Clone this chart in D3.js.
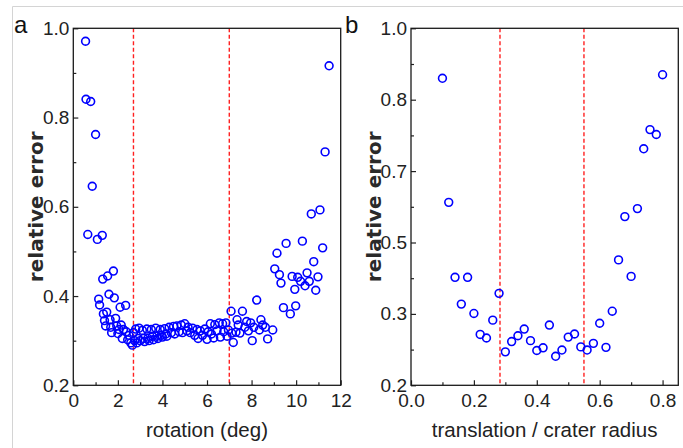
<!DOCTYPE html>
<html>
<head>
<meta charset="utf-8">
<script src="https://cdn.jsdelivr.net/npm/d3@7"></script>
<style>
  html, body { margin: 0; padding: 0; background: #fff; }
  svg { display: block; }
  .tick text { font-family: "Liberation Sans Narrow", "Liberation Sans", Arial, sans-serif; font-size: 19px; fill: #222; }
</style>
</head>
<body>
<div id="chart"></div>
<script>
// panel a: rotation (deg) vs relative error
const rotationDeg = [
  0.55, 0.57, 0.65, 0.78, 0.85, 1.00, 1.08, 1.14, 1.18, 1.30, 1.32, 1.35, 1.40, 1.45, 1.50, 1.54,
  1.60, 1.65, 1.68, 1.72, 1.80, 1.84, 1.90, 1.95, 2.00, 2.05, 2.10, 2.15, 2.20, 2.25, 2.35, 2.38,
  2.44, 2.50, 2.58, 2.65,
  2.70, 2.75, 2.80, 2.85, 2.90, 2.95, 3.00, 3.10, 3.15, 3.20, 3.30, 3.35, 3.40, 3.50, 3.55, 3.60,
  3.70, 3.75, 3.80, 3.90, 3.95, 4.00, 4.10, 4.15, 4.20, 4.30, 4.40, 4.50, 4.55, 4.65, 4.75, 4.85,
  4.90, 5.00, 5.10, 5.15, 5.25, 5.35, 5.45, 5.55, 5.60, 5.70, 5.80, 5.90, 6.00, 6.05, 6.15, 6.20,
  6.30, 6.35, 6.45, 6.55, 6.60, 6.70, 6.75, 6.85, 6.90, 6.96,
  7.08, 7.11, 7.18, 7.30, 7.35, 7.40, 7.48, 7.59, 7.70, 7.78, 7.86, 7.96, 8.03, 8.10, 8.23, 8.35,
  8.42, 8.50, 8.62, 8.72, 8.95,
  9.04, 9.14, 9.25, 9.32, 9.43, 9.55, 9.74, 9.82, 9.94, 9.98, 10.07, 10.20, 10.28, 10.40, 10.49,
  10.59, 10.68, 10.79, 10.88, 10.98, 11.07, 11.19, 11.30, 11.48
];
const rotationErr = [
  0.971, 0.841, 0.538, 0.836, 0.646, 0.762, 0.527, 0.393, 0.380, 0.536, 0.438, 0.360, 0.345, 0.333, 0.364, 0.445,
  0.404, 0.347, 0.330, 0.318, 0.456, 0.396, 0.350, 0.333, 0.316, 0.325, 0.375, 0.335, 0.305, 0.325, 0.379, 0.320,
  0.302, 0.312, 0.295, 0.290,
  0.318, 0.300, 0.326, 0.295, 0.305, 0.328, 0.300, 0.323, 0.305, 0.298, 0.326, 0.305, 0.300, 0.325, 0.310, 0.302,
  0.328, 0.310, 0.305, 0.325, 0.312, 0.308, 0.327, 0.315, 0.310, 0.330, 0.318, 0.332, 0.315, 0.333, 0.320, 0.335,
  0.318, 0.338, 0.322, 0.330, 0.318, 0.328, 0.312, 0.325, 0.305, 0.322, 0.312, 0.326, 0.303, 0.320, 0.338, 0.315,
  0.306, 0.336, 0.322, 0.340, 0.308, 0.338, 0.320, 0.340, 0.310, 0.324,
  0.366, 0.317, 0.296, 0.319, 0.347, 0.335, 0.317, 0.366, 0.330, 0.343, 0.322, 0.340, 0.300, 0.330, 0.391, 0.324,
  0.347, 0.335, 0.330, 0.304, 0.324,
  0.461, 0.496, 0.448, 0.429, 0.374, 0.518, 0.360, 0.444, 0.415, 0.378, 0.442, 0.433, 0.523, 0.423, 0.452,
  0.433, 0.584, 0.477, 0.413, 0.443, 0.593, 0.508, 0.723, 0.916
];

// panel b: translation / crater radius vs relative error
const translation = [
  0.10, 0.12, 0.14, 0.16, 0.18, 0.20, 0.22, 0.24, 0.26, 0.28, 0.30, 0.32, 0.34, 0.36, 0.38, 0.40, 0.42, 0.44,
  0.46, 0.48, 0.50, 0.52, 0.54, 0.56, 0.58, 0.60, 0.62, 0.64, 0.66, 0.68, 0.70, 0.72, 0.74, 0.76, 0.78, 0.80
];
const translationErr = [
  0.888, 0.610, 0.442, 0.382, 0.442, 0.361, 0.314, 0.306, 0.346, 0.406, 0.275, 0.298, 0.311, 0.326, 0.300, 0.278, 0.284, 0.335,
  0.265, 0.279, 0.308, 0.315, 0.286, 0.279, 0.294, 0.339, 0.285, 0.366, 0.481, 0.578, 0.444, 0.596, 0.730, 0.773, 0.762, 0.896
];

// axis ticks
const rotTicks = [0, 2, 4, 6, 8, 10, 12];
const rotMinor = [1, 3, 5, 7, 9, 11];
const transTicks = [0, 0.2, 0.4, 0.6, 0.8];
const transMinor = [0.1, 0.3, 0.5, 0.7];
const errTicksA = [0.2, 0.4, 0.6, 0.8, 1.0];
const errMinorA = [0.3, 0.5, 0.7, 0.9];
const errTicksB = [0.2, 0.36, 0.52, 0.68, 0.84, 1.0];
const errLabelsB = ['0.2', '0.3', '0.5', '0.7', '0.8', '1.0'];
const errMinorB = [0.28, 0.44, 0.6, 0.76, 0.92];

// red dashed marker lines
const rotCuts = [2.7, 7.0];
const transCuts = [0.283, 0.55];

const width = 683, height = 448;
const plotTop = 28.3, plotBottom = 385.3;

const svg = d3.select('#chart').append('svg')
    .attr('width', width)
    .attr('height', height);

// light grey page border
svg.append('path')
    .attr('d', `M12.5,${height} V6.5 H${width}`)
    .attr('fill', 'none')
    .attr('stroke', '#d4d4d4')
    .attr('stroke-width', 1);

function drawPanel(opts) {
    const x = d3.scaleLinear().domain(opts.xDomain).range([opts.left, opts.right]);
    const y = d3.scaleLinear().domain([0.2, 1.0]).range([plotBottom, plotTop]);
    const g = svg.append('g');

    // cut lines
    g.append('g').selectAll('line')
        .data(opts.cuts)
        .enter()
        .append('line')
        .attr('x1', d => x(d)).attr('x2', d => x(d))
        .attr('y1', plotTop).attr('y2', plotBottom)
        .attr('stroke', '#ff2020')
        .attr('stroke-width', 1.4)
        .attr('stroke-dasharray', '4,2.5');

    // minor ticks
    g.append('g')
        .attr('transform', `translate(0,${plotBottom})`)
        .call(d3.axisBottom(x).tickValues(opts.xMinor).tickSize(-3).tickFormat(''));
    g.append('g')
        .attr('transform', `translate(${opts.left},0)`)
        .call(d3.axisLeft(y).tickValues(opts.yMinor).tickSize(-3).tickFormat(''));

    // major ticks
    g.append('g')
        .attr('transform', `translate(0,${plotBottom})`)
        .call(d3.axisBottom(x).tickValues(opts.xTicks).tickSize(-5).tickPadding(8)
            .tickFormat(opts.xFormat));
    g.append('g')
        .attr('transform', `translate(${opts.left},0)`)
        .call(d3.axisLeft(y).tickValues(opts.yTicks).tickSize(-5).tickPadding(4)
            .tickFormat((d, i) => opts.yLabels[i]));

    g.selectAll('.domain').remove();
    g.selectAll('.tick line').attr('stroke', '#222').attr('stroke-width', 1.2);

    // frame
    g.append('rect')
        .attr('x', opts.left).attr('y', plotTop)
        .attr('width', opts.right - opts.left)
        .attr('height', plotBottom - plotTop)
        .attr('fill', 'none')
        .attr('stroke', '#1a1a1a')
        .attr('stroke-width', 1.3);

    // points
    g.append('g').selectAll('circle')
        .data(opts.xs.map((v, i) => [v, opts.ys[i]]))
        .enter()
        .append('circle')
        .attr('cx', d => x(d[0]))
        .attr('cy', d => y(d[1]))
        .attr('r', 3.9)
        .attr('fill', 'none')
        .attr('stroke', '#0000ff')
        .attr('stroke-width', 1.6);

    // axis titles
    g.append('text')
        .attr('x', (opts.left + opts.right) / 2)
        .attr('y', 437)
        .attr('text-anchor', 'middle')
        .attr('font-family', '"Liberation Sans", Arial, sans-serif')
        .attr('font-size', 20.5)
        .attr('fill', '#222')
        .text(opts.xTitle);

    g.append('text')
        .attr('transform', `translate(${opts.left - 30},${(plotTop + plotBottom) / 2}) rotate(-90)`)
        .attr('text-anchor', 'middle')
        .attr('font-family', '"DejaVu Sans", Verdana, sans-serif')
        .attr('font-weight', 'bold')
        .attr('font-size', 20)
        .attr('fill', '#2a2a2a')
        .text('relative error');

    // panel letter
    g.append('text')
        .attr('x', opts.letterX)
        .attr('y', 33)
        .attr('font-family', '"Liberation Sans Narrow", "Liberation Sans", Arial, sans-serif')
        .attr('font-size', 24)
        .attr('fill', '#111')
        .text(opts.letter);
}

drawPanel({
    left: 73.3, right: 340.7, xDomain: [0, 12],
    xTicks: rotTicks, xMinor: rotMinor, xFormat: d3.format('d'),
    yTicks: errTicksA, yMinor: errMinorA, yLabels: errTicksA.map(d3.format('.1f')),
    xs: rotationDeg, ys: rotationErr, cuts: rotCuts,
    xTitle: 'rotation (deg)', letter: 'a', letterX: 14
});

drawPanel({
    left: 411, right: 678.3, xDomain: [0, 0.85],
    xTicks: transTicks, xMinor: transMinor, xFormat: d3.format('.1f'),
    yTicks: errTicksB, yMinor: errMinorB, yLabels: errLabelsB,
    xs: translation, ys: translationErr, cuts: transCuts,
    xTitle: 'translation / crater radius', letter: 'b', letterX: 345
});
</script>
</body>
</html>
